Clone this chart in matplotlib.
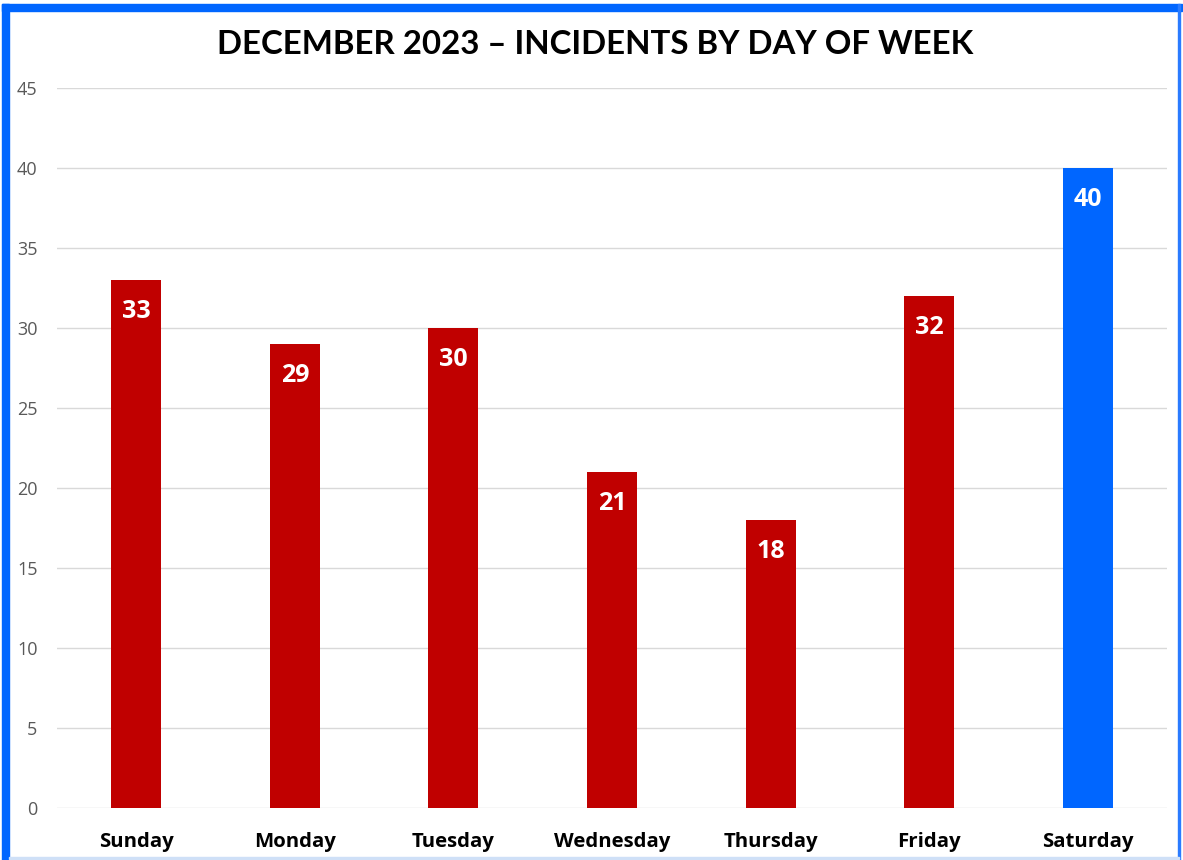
import matplotlib.pyplot as plt
from matplotlib.patches import Rectangle

days = ["Sunday", "Monday", "Tuesday", "Wednesday", "Thursday", "Friday", "Saturday"]
incidents = [33, 29, 30, 21, 18, 32, 40]
bar_colors = ["#c00000"] * 6 + ["#0066ff"]
y_ticks = [0, 5, 10, 15, 20, 25, 30, 35, 40, 45]

W, H = 1183, 860
fig = plt.figure(figsize=(W / 100, H / 100), dpi=100)
fig.patch.set_facecolor("white")

# frame around the chart
def px_rect(x0, y0, x1, y1, color):
    fig.patches.append(Rectangle((x0 / W, 1 - y1 / H), (x1 - x0) / W, (y1 - y0) / H,
                                 transform=fig.transFigure, color=color, zorder=0))

px_rect(2, 4, 1182, 11, "#0066ff")
px_rect(2, 4, 9, 860, "#0066ff")
px_rect(1177.5, 4, 1179.5, 860, "#2a7bff")
px_rect(9, 857, 1179, 859, "#cfe0f7")

ax = fig.add_axes([57 / W, 1 - 808 / H, 1110 / W, 720 / H])
x = range(len(days))
bars = ax.bar(x, incidents, width=0.315, color=bar_colors, zorder=3)

for xi, v in zip(x, incidents):
    ax.text(xi, v - 1.95, str(v), ha="center", va="center", color="white",
            fontsize=18, fontweight="bold", family="Open Sans", zorder=4)

ax.set_xlim(-0.5, len(days) - 0.5)
ax.set_ylim(0, 45)
ax.set_yticks(y_ticks)
ax.set_xticks(list(x))
ax.set_xticklabels(days, fontsize=14.7, fontweight="bold", family="Open Sans")
ax.tick_params(axis="y", labelsize=13, labelcolor="#595959", length=0, pad=14)
ax.tick_params(axis="x", length=0, pad=17)
for lbl in ax.get_yticklabels():
    lbl.set_family("Open Sans")
ax.grid(axis="y", color="#d9d9d9", linewidth=1, zorder=0)
for s in ax.spines.values():
    s.set_visible(False)

fig.text(595 / W, 1 - 44 / H, "DECEMBER 2023 – INCIDENTS BY DAY OF WEEK",
         ha="center", va="center", fontsize=23.8, fontweight="bold", family="Lato")

fig.savefig("out.png", dpi=100)
